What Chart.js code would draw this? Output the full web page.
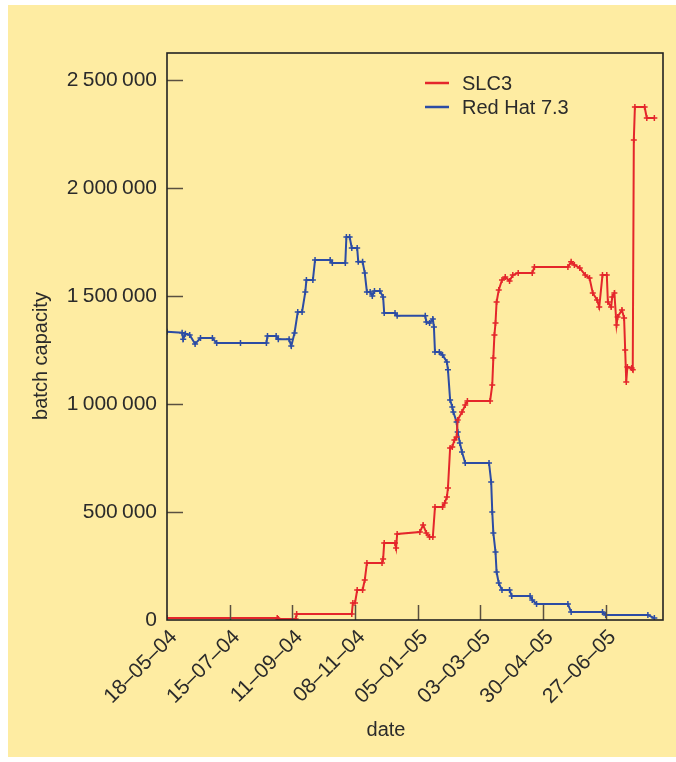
<!DOCTYPE html>
<html lang="en">
<head>
    <meta charset="UTF-8">
    <title>Batch capacity: SLC3 vs Red Hat 7.3</title>
    <script src="https://cdn.jsdelivr.net/npm/chart.js"></script>
    <style>
        body { margin: 0; background: #ffffff; }
        #capacityChart { display: block; }
    </style>
</head>
<body>
    <canvas id="capacityChart" width="676" height="762"></canvas>

    <script>
        // days counted from 18 May 2004
        const xTickDays = [0, 58, 116, 174, 232, 290, 348, 406];
        const xTickLabels = ['18–05–04', '15–07–04', '11–09–04', '08–11–04', '05–01–05', '03–03–05', '30–04–05', '27–06–05'];
        const yTicks = [0, 500000, 1000000, 1500000, 2000000, 2500000];

        const redHatDays = [0, 14, 15, 17, 21, 26, 31, 42, 46, 68, 92, 93, 101, 103, 113, 115, 118, 121, 125, 128, 129, 135, 137, 151, 153, 165, 166, 169, 171, 176, 177, 181, 183, 185, 188, 190, 192, 197, 200, 201, 211, 213, 239, 240, 243, 246, 247, 248, 252, 255, 259, 260, 262, 264, 265, 268, 269, 271, 273, 276, 298, 300, 301, 302, 304, 305, 307, 310, 317, 319, 336, 338, 342, 371, 374, 403, 406, 445, 451];
        const redHatValues = [1335000, 1330000, 1300000, 1325000, 1320000, 1278000, 1305000, 1305000, 1282000, 1282000, 1282000, 1315000, 1315000, 1300000, 1300000, 1268000, 1329000, 1426000, 1426000, 1519000, 1574000, 1574000, 1667000, 1667000, 1653000, 1653000, 1773000, 1773000, 1722000, 1722000, 1658000, 1658000, 1607000, 1519000, 1519000, 1500000, 1523000, 1523000, 1495000, 1421000, 1421000, 1408000, 1408000, 1380000, 1375000, 1394000, 1357000, 1241000, 1241000, 1227000, 1195000, 1158000, 1019000, 986000, 963000, 917000, 870000, 820000, 778000, 727000, 727000, 639000, 500000, 403000, 315000, 222000, 171000, 139000, 139000, 111000, 111000, 93000, 74000, 74000, 37000, 37000, 23000, 23000, 9000];

        const slcDays = [0, 102, 103, 119, 120, 171, 172, 174, 176, 181, 183, 185, 199, 200, 201, 211, 212, 213, 234, 237, 240, 243, 246, 248, 255, 257, 259, 260, 262, 264, 266, 268, 269, 273, 276, 278, 299, 301, 302, 303, 304, 305, 307, 310, 313, 317, 320, 325, 338, 340, 371, 374, 377, 382, 387, 391, 394, 398, 400, 403, 407, 408, 411, 412, 414, 416, 417, 421, 423, 424, 425, 426, 430, 431, 432, 433, 442, 444, 451];
        const slcValues = [9000, 9000, 5000, 5000, 28000, 28000, 79000, 79000, 139000, 139000, 185000, 264000, 264000, 282000, 356000, 356000, 333000, 398000, 407000, 440000, 403000, 384000, 384000, 523000, 523000, 542000, 569000, 611000, 796000, 801000, 833000, 847000, 926000, 963000, 995000, 1014000, 1014000, 1088000, 1213000, 1320000, 1375000, 1472000, 1528000, 1574000, 1588000, 1570000, 1597000, 1607000, 1607000, 1634000, 1634000, 1658000, 1644000, 1630000, 1597000, 1583000, 1514000, 1482000, 1449000, 1597000, 1597000, 1472000, 1449000, 1495000, 1514000, 1366000, 1403000, 1435000, 1398000, 1250000, 1102000, 1171000, 1167000, 1158000, 2222000, 2375000, 2375000, 2324000, 2324000];

        const RED = '#e4262b';
        const BLUE = '#2c4ca4';
        const PANEL = '#feeca2';
        const INK = '#2b2b2b';
        const FONT = "'Liberation Sans', Arial, sans-serif";

        function toPoints(days, values) {
            return days.map((d, i) => ({x: d, y: values[i]}));
        }

        function formatThousands(v) {
            return String(v).replace(/\B(?=(\d{3})+(?!\d))/g, '\u2009');
        }

        // yellow panel, frame, inward ticks, x labels, legend and axis titles
        const decorations = {
            id: 'decorations',
            beforeDraw(chart) {
                const c = chart.ctx;
                c.save();
                c.fillStyle = '#ffffff';
                c.fillRect(0, 0, chart.width, chart.height);
                c.fillStyle = PANEL;
                c.fillRect(8, 5, chart.width - 8, 752);
                c.restore();
            },
            afterDatasetsDraw(chart) {
                const c = chart.ctx;
                const a = chart.chartArea;
                const xs = chart.scales.x, ys = chart.scales.y;
                c.save();
                c.strokeStyle = '#5a5040';
                c.lineWidth = 1.5;
                xTickDays.slice(1).forEach(d => {
                    const px = Math.round(xs.getPixelForValue(d)) + 0.5;
                    c.beginPath(); c.moveTo(px, a.bottom); c.lineTo(px, a.bottom - 15); c.stroke();
                });
                yTicks.slice(1).forEach(v => {
                    const py = Math.round(ys.getPixelForValue(v)) + 0.5;
                    c.beginPath(); c.moveTo(a.left, py); c.lineTo(a.left + 16, py); c.stroke();
                });
                c.strokeStyle = '#222222';
                c.lineWidth = 1.6;
                c.strokeRect(a.left, a.top, a.right - a.left, a.bottom - a.top);

                c.fillStyle = INK;
                c.textBaseline = 'middle';

                // rotated date labels, ending just right of each tick
                c.font = '21px ' + FONT;
                c.textAlign = 'right';
                xTickDays.forEach((d, i) => {
                    const px = xs.getPixelForValue(d);
                    c.save();
                    c.translate(px + 7, a.bottom + 14);
                    c.rotate(-Math.PI / 4);
                    c.fillText(xTickLabels[i], 0, 0);
                    c.restore();
                });

                // legend
                c.font = '20px ' + FONT;
                c.textAlign = 'left';
                chart.data.datasets.forEach((ds, i) => {
                    const y = 83 + i * 24;
                    c.strokeStyle = ds.borderColor;
                    c.lineWidth = 2.5;
                    c.beginPath(); c.moveTo(425, y); c.lineTo(449, y); c.stroke();
                    c.fillText(ds.label, 462, y + 1);
                });

                // axis titles
                c.textAlign = 'center';
                c.fillText('date', 386, 730);
                c.translate(41, 356);
                c.rotate(-Math.PI / 2);
                c.fillText('batch capacity', 0, 0);
                c.restore();
            }
        };

        const ctx = document.getElementById('capacityChart').getContext('2d');
        const capacityChart = new Chart(ctx, {
            type: 'line',
            data: {
                datasets: [
                    {label: 'SLC3', data: toPoints(slcDays, slcValues), borderColor: RED, backgroundColor: RED, borderWidth: 2, pointStyle: 'cross', pointRadius: 3, pointBorderWidth: 1.5, tension: 0},
                    {label: 'Red Hat 7.3', data: toPoints(redHatDays, redHatValues), borderColor: BLUE, backgroundColor: BLUE, borderWidth: 2, pointStyle: 'cross', pointRadius: 3, pointBorderWidth: 1.5, tension: 0}
                ]
            },
            options: {
                responsive: false,
                animation: false,
                layout: { padding: { top: 53, right: 13, left: 0, bottom: 0 } },
                plugins: { legend: { display: false }, tooltip: { enabled: false } },
                scales: {
                    x: {
                        type: 'linear',
                        min: 0,
                        max: 459,
                        grid: { display: false, drawTicks: false },
                        border: { display: false },
                        afterBuildTicks: s => { s.ticks = xTickDays.map(v => ({value: v})); },
                        afterFit: s => { s.height = 142; },
                        ticks: { display: false }
                    },
                    y: {
                        min: 0,
                        max: 2625000,
                        grid: { display: false, drawTicks: false },
                        border: { display: false },
                        afterBuildTicks: s => { s.ticks = yTicks.map(v => ({value: v})); },
                        afterFit: s => { s.width = 167; },
                        ticks: {
                            padding: 10,
                            color: INK,
                            font: { family: FONT, size: 21 },
                            callback: v => formatThousands(v)
                        }
                    }
                }
            },
            plugins: [decorations]
        });
    </script>
</body>
</html>
